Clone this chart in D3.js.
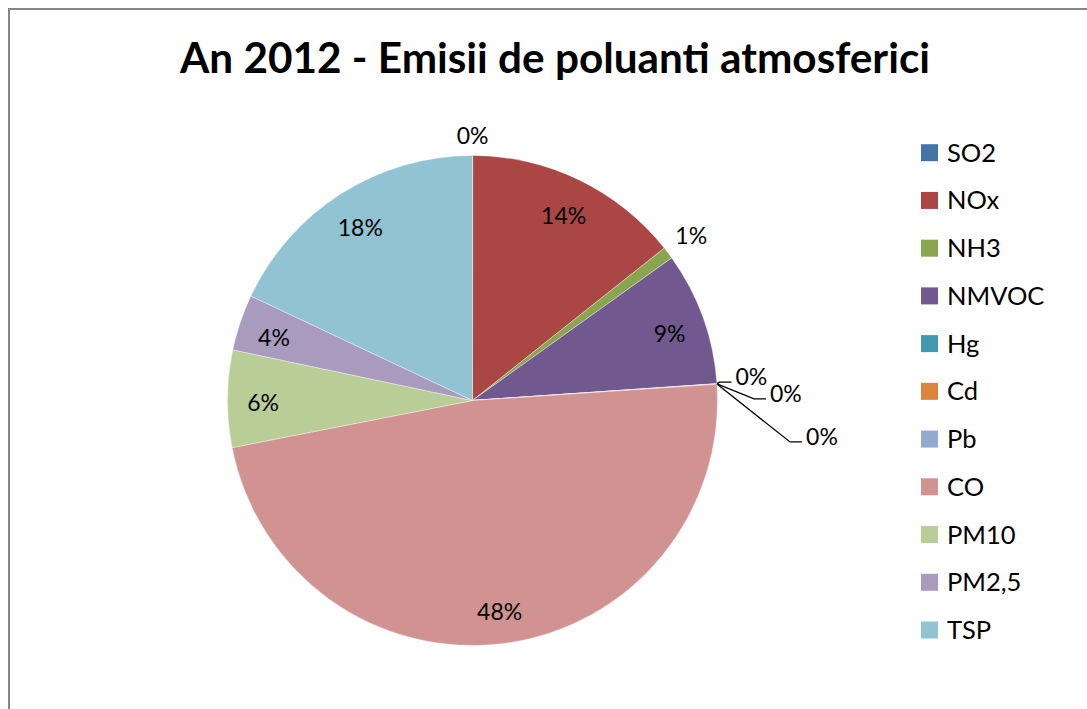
<!DOCTYPE html>
<html>
<head>
<meta charset="utf-8">
<script src="https://cdn.jsdelivr.net/npm/d3@7"></script>
<style>
  html, body { margin: 0; padding: 0; background: #fff; }
  svg { display: block; }
  text { font-family: Lato, "Open Sans", "Liberation Sans", sans-serif; fill: #000; }
</style>
</head>
<body>
<svg id="chart" width="1087" height="709"></svg>
<script>
// Pollutant emissions, 2012 (share of total, %)
const pollutants = ["SO2", "NOx", "NH3", "NMVOC", "Hg", "Cd", "Pb", "CO", "PM10", "PM2,5", "TSP"];
const shares     = [0.02, 14.3, 0.8, 8.8, 0.01, 0.01, 0.02, 48.0, 6.4, 3.7, 18.0];
const palette    = ["#4572A7", "#AA4643", "#89A54E", "#71588F", "#4198AF", "#DB843D",
                    "#93A9CF", "#D19392", "#B9CD96", "#A99BBD", "#92C3D3"];
const titleText  = "An 2012 - Emisii de poluanti atmosferici";

// Label placement mode per slice: "in" = inside, "out" = just outside the rim,
// "lead" = moved aside with a leader line (offset from the slice's rim point)
const labelMode   = ["out", "in", "out", "in", "lead", "lead", "lead", "in", "in", "in", "in"];
const leadOffsets = { 4: [34.5, -6.5], 5: [69, 10], 6: [105, 53] };

const svg = d3.select("#chart");
const W = 1087, H = 709;

// Chart area border (extends past the right and bottom edges)
svg.append("rect")
  .attr("x", 9).attr("y", 9)
  .attr("width", W + 20).attr("height", H + 20)
  .attr("fill", "none").attr("stroke", "#878787").attr("stroke-width", 2);

// Title
svg.append("text")
  .attr("x", 555).attr("y", 73)
  .attr("text-anchor", "middle")
  .attr("font-weight", 700)
  .attr("font-size", 42)
  .attr("textLength", 750)
  .attr("lengthAdjust", "spacingAndGlyphs")
  .text(titleText);

// Pie
const cx = 472.5, cy = 400.5, R = 245;
const color = d3.scaleOrdinal().domain(pollutants).range(palette);
const total = d3.sum(shares);
const data = pollutants.map((name, i) => ({ name, value: shares[i], i }));

const pie = d3.pie().value(d => d.value).sort(null).startAngle(0).endAngle(2 * Math.PI);
const arcs = pie(data);
const arc = d3.arc().innerRadius(0).outerRadius(R);

const g = svg.append("g").attr("transform", `translate(${cx},${cy})`);

g.selectAll("path.slice")
  .data(arcs)
  .enter().append("path")
  .attr("class", "slice")
  .attr("d", arc)
  .attr("fill", d => color(d.data.name))
  .attr("stroke", "rgba(255,255,255,0.6)")
  .attr("stroke-width", 0.6);

const pct = d => Math.round(d.data.value / total * 100) + "%";
const labelSize = 23;
const capH = 16.5;

// Helper: unit vector for a d3 pie angle (clockwise from 12 o'clock)
const unit = a => [Math.sin(a), -Math.cos(a)];

const labels = g.append("g").attr("font-size", labelSize);

arcs.forEach(d => {
  const mode = labelMode[d.data.i];
  const mid = (d.startAngle + d.endAngle) / 2;
  const [ux, uy] = unit(mid);
  const t = labels.append("text")
    .attr("text-anchor", "middle")
    .text(pct(d));
  const w = t.node().getComputedTextLength();

  if (mode === "in") {
    const dist = R * 0.855;
    t.attr("x", ux * dist).attr("y", uy * dist + capH / 2 + 4);
  } else if (mode === "out") {
    // smallest distance where the label box sits clear of the rim
    const pad = 11;
    let dist = R;
    for (; dist < R + 80; dist += 0.5) {
      const px = ux * dist, py = uy * dist;
      const nearX = Math.abs(px) < w / 2 ? 0 : (Math.abs(px) - w / 2) * Math.sign(px);
      const nearY = Math.abs(py) < capH / 2 ? 0 : (Math.abs(py) - capH / 2) * Math.sign(py);
      if (Math.hypot(nearX, nearY) >= R + pad) break;
    }
    t.attr("x", ux * dist).attr("y", uy * dist + capH / 2);
  } else {
    const [ax, ay] = unit(d.startAngle).map(v => v * R);
    const [ox, oy] = leadOffsets[d.data.i];
    const lx = ax + ox, ly = ay + oy;
    t.attr("x", lx).attr("y", ly + capH / 2);
    const left = lx - w / 2;
    const ey = ly + 5;
    labels.append("polyline")
      .attr("points", [[ax, ay], [left - 16, ey], [left - 4, ey]].map(p => p.join(",")).join(" "))
      .attr("fill", "none").attr("stroke", "#000").attr("stroke-width", 1.3);
  }
});

// Legend
const legend = svg.append("g").attr("font-size", 25.5);
const rowY = d3.scalePoint().domain(pollutants).range([152.7, 630]);
pollutants.forEach(name => {
  const y = rowY(name);
  legend.append("rect")
    .attr("x", 921).attr("y", y - 8.5)
    .attr("width", 17).attr("height", 17)
    .attr("fill", color(name));
  legend.append("text")
    .attr("x", 947).attr("y", y + 9)
    .text(name);
});
</script>
</body>
</html>
